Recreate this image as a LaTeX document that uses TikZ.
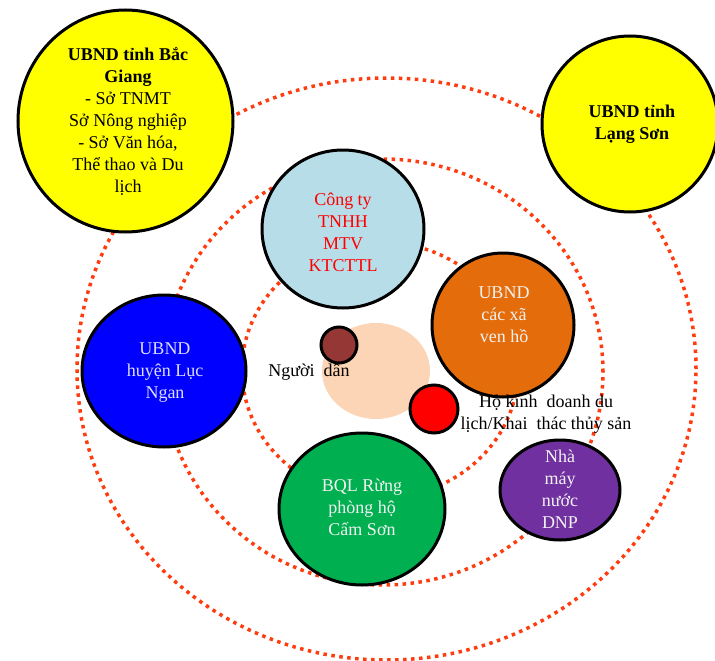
\documentclass[tikz,border=0pt]{standalone}
\usepackage{fontspec}
\setmainfont{Liberation Serif}

\definecolor{dotred}{RGB}{255,60,15}
\definecolor{sunyellow}{RGB}{255,255,0}
\definecolor{paleblue}{RGB}{183,221,232}
\definecolor{ubndorange}{RGB}{228,108,10}
\definecolor{deepblue}{RGB}{0,0,255}
\definecolor{forestgreen}{RGB}{0,176,80}
\definecolor{plantpurple}{RGB}{112,48,160}
\definecolor{peach}{RGB}{251,213,181}
\definecolor{brickbrown}{RGB}{149,55,53}
\definecolor{lavender}{RGB}{221,221,255}
\definecolor{offwhite}{RGB}{242,242,242}

\begin{document}
\begin{tikzpicture}[x=1pt, y=-1pt,
	ring/.style={dotred, line width=3.5pt, dash pattern=on 3.5pt off 4.5pt},
	disc/.style={draw=black, line width=3pt},
	lbl/.style={inner sep=0pt, align=center, font=\fontsize{18}{22}\selectfont}]
	\useasboundingbox (0,0) rectangle (715,661);
	
	% three dotted rings
	\draw [ring] (386.5,369) ellipse [x radius=309.5pt, y radius=291pt];
	\draw [ring] (383,372) ellipse [x radius=220pt, y radius=213pt];
	\draw [ring] (380,370) ellipse [x radius=138pt, y radius=128pt];
	
	% centre
	\fill [peach] (376,371) ellipse [x radius=54pt, y radius=48pt];
	
	% actors
	\draw [disc, fill=sunyellow] (125.5,121) ellipse [x radius=107.5pt, y radius=111pt];
	\draw [disc, fill=sunyellow] (630,124) circle (88pt);
	\draw [disc, fill=paleblue] (343,229) ellipse [x radius=81pt, y radius=79pt];
	\draw [disc, fill=ubndorange] (503,325) ellipse [x radius=71pt, y radius=72pt];
	\draw [disc, fill=deepblue] (164,371) ellipse [x radius=82pt, y radius=76pt];
	\draw [disc, fill=forestgreen] (362,509) ellipse [x radius=83pt, y radius=76pt];
	\draw [disc, fill=plantpurple] (560,490) ellipse [x radius=60pt, y radius=50pt];
	\draw [disc, fill=brickbrown] (339,345) circle (18pt);
	\draw [disc, fill=red] (434,409) circle (24pt);
	
	\node (bacgiang) [lbl] at (128,121.5) {\bfseries UBND tỉnh Bắc\\\bfseries Giang\\- Sở TNMT\\Sở Nông nghiệp\\- Sở Văn hóa,\\Thể thao và Du\\lịch};
	\node (langson) [lbl, font=\fontsize{18}{22}\selectfont\bfseries] at (632,124) {UBND tỉnh\\Lạng Sơn};
	\node (congty) [lbl, text=red] at (343,232) {Công ty\\TNHH\\MTV\\KTCTTL};
	\node (ubndxa) [lbl, text=offwhite] at (504,315) {UBND\\các xã\\ven hồ};
	\node (lucngan) [lbl, text=lavender] at (165,373) {UBND\\huyện Lục\\Ngan};
	\node (bql) [lbl, text=offwhite] at (362,507) {BQL Rừng\\phòng hộ\\Cấm Sơn};
	\node (nhamay) [lbl, text=offwhite] at (560,489) {Nhà\\máy\\nước\\DNP};
	\node (nguoidan) [lbl] at (309,372) {Người\ \ dân};
	\node (hokinhdoanh) [lbl] at (546,414) {Hộ kinh\ \ doanh du\\lịch/Khai\ \ thác thủy sản};
	
\end{tikzpicture}
\end{document}
